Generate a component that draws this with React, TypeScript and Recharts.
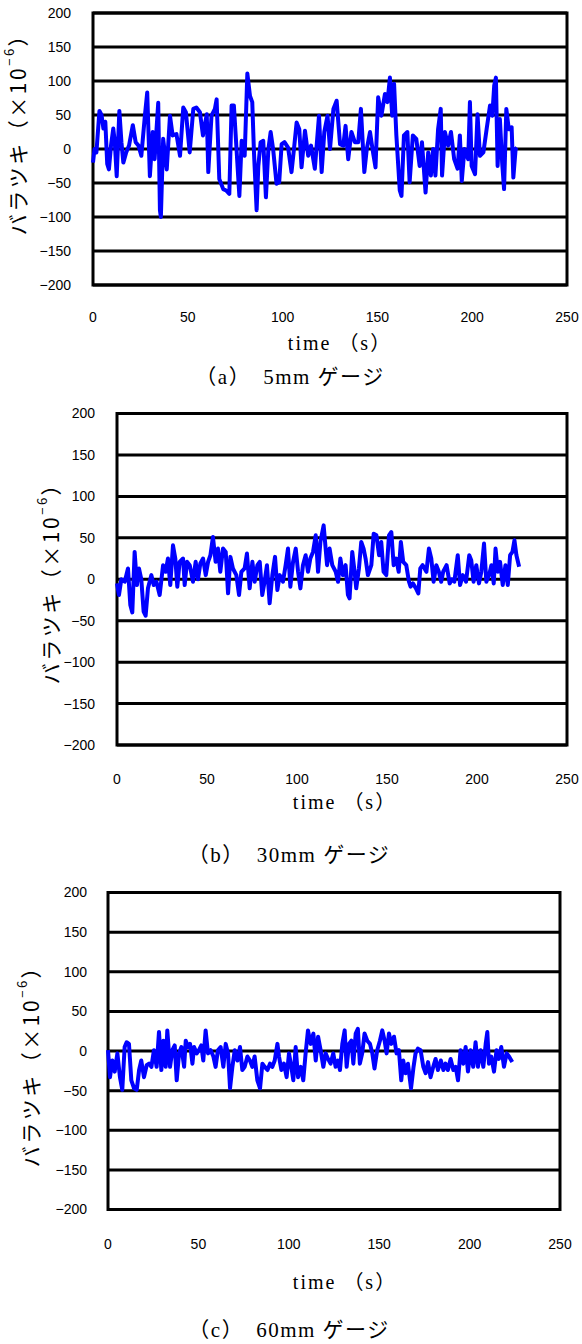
import React from 'react'
import { LineChart, Line, XAxis, YAxis, CartesianGrid, ReferenceArea } from 'recharts'

// time (s) and scatter (x10^-6) for each gauge length
const gauge5Time = [
  0, 0.8, 1.8, 3.4, 4.5, 5.5, 6.5, 7.5, 8.4, 9.5, 10.7, 11.5, 12.5, 13.9, 15, 16, 17.5, 19, 21, 22.5,
  24, 25.5, 27.4, 28.6, 30, 31.5, 32.5, 34.4, 35.3, 35.8, 37, 38.9, 40.6, 42, 44, 45.9, 47.6, 49, 51, 52.9,
  54.5, 56.4, 58, 60, 60.8, 62.5, 64.3, 65.2, 66.6, 68.7, 70.2, 71.9, 73.1, 74.3, 75.8, 77.2, 78.4, 80, 81.4, 82.8,
  84, 84.9, 86.3, 87.2, 88.4, 89.8, 91.2, 92.5, 93.7, 95, 96.8, 98.2, 99.5, 101, 102.9, 104.7, 106, 107.4, 108.8, 110,
  111.8, 113.5, 115, 117, 119.2, 120.6, 122, 123.7, 125, 126.8, 128.5, 130.3, 132, 133.2, 134.6, 136.3, 138.1, 139.9, 141.3, 143.1,
  144.4, 146.1, 147.8, 149, 150.4, 152.1, 154, 155.3, 156.6, 157.8, 158.8, 160, 161.8, 162.7, 164, 165.8, 167, 168.7, 170.5, 172.3,
  173.5, 175.4, 176.8, 178.2, 179.4, 180.6, 182, 183.4, 184.1, 185.6, 187.3, 188.8, 190.5, 192.3, 193.5, 194.5, 195.9, 197.9, 198.8, 199.7,
  201.5, 202.8, 204.1, 205.9, 207.6, 209.4, 210.6, 211.6, 212.5, 213.4, 214.6, 215.8, 216.8, 218, 219.3, 220.8, 221.7, 222.9, 223.6,
]
const gauge5Value = [
  -20, 0, -5, 56, 50, 30, 40, -22, -30, 5, 30, 10, -40, 56, 10, -20, -5, 5, 35, 10,
  5, -10, 50, 83, -40, 25, -15, 68, -90, -100, 15, -30, 49, 20, 22, -10, 61, 54, -5, 59,
  61, 54, 20, 51, -34, 49, 59, 73, -44, -59, -61, -66, 64, 64, -5, -69, 12, -10, 111, 78,
  69, -5, -90, -25, 10, 12, -71, 0, 25, 0, -51, -49, 7, 10, 2, -34, 0, 39, 29, -27,
  27, -10, 5, -29, 49, -34, 25, 49, 0, 59, 71, 7, 5, 34, -15, 25, 10, 10, 59, -34,
  0, 25, -7, -27, 76, 49, 81, 69, 105, 49, 96, 20, -61, -69, 20, 25, -49, 20, 15, -25,
  10, -64, -5, -39, 0, -39, 29, 59, -39, 25, 5, 25, -15, -29, 20, -47, 0, -15, 69, -25,
  -37, 51, -10, -5, 29, 64, 49, 93, 105, -25, 44, -20, -59, 59, 29, 32, -42, 0, 2,
]

const gauge30Time = [
  0, 1.1, 2.4, 4.3, 6.1, 7.4, 8.5, 9.8, 11.1, 12.2, 13.5, 14.8, 15.9, 17.2, 19.1, 20.4, 21.9, 23.7, 25.6, 27,
  28.3, 29.6, 31.1, 32.4, 33.5, 34.8, 36.7, 37.6, 38.9, 40.4, 42.2, 43.7, 45, 46.3, 47.8, 49.3, 50.6, 51.9, 53.3, 54.8,
  56.1, 57.4, 58.9, 60.4, 61.7, 63, 64.4, 66.3, 67.8, 69.1, 70.9, 72.2, 73.7, 75.2, 76.5, 78, 79.3, 80.7, 82, 83.3,
  84.8, 86.3, 87.8, 89.1, 90.4, 92.2, 93.7, 95, 96.3, 97.8, 99.3, 100.6, 101.9, 103.3, 104.8, 106.1, 107.4, 108.9, 110.4, 111.7,
  113, 114.8, 116.7, 118.1, 119.6, 121.5, 122.8, 124.1, 125.5, 127, 128.3, 129.2, 130.7, 132, 132.9, 134.4, 135.7, 137, 138.1, 139.4,
  141.3, 142.6, 144.1, 145.6, 146.8, 148.1, 149.6, 151.1, 152.4, 153.7, 155.1, 156.5, 157.7, 159, 160.7, 162.2, 163.1, 164.4, 166.1, 167.4,
  168.5, 169.8, 171.9, 173.3, 174.6, 175.9, 177.4, 178.8, 180.1, 181.2, 183.1, 184.8, 186.1, 187.4, 189.3, 190.6, 192.1, 193.9, 195.7, 196.8,
  198.1, 199.6, 201.1, 202.4, 203.9, 205.2, 206.7, 208, 209.3, 210.3, 211.6, 212.8, 214.3, 215.8, 217.1, 218.4, 219.7, 220.8, 221.9, 223.4,
]
const gauge30Value = [
  -5, -19, 0, -3, 13, -31, -40, 33, -7, 13, 0, -39, -44, -11, 5, -7, -3, -19, 17, 9,
  25, -7, 41, 25, -9, 21, 25, -7, 21, 17, -3, 21, 0, 19, 25, 5, 21, 29, 51, 21,
  37, 9, 37, 33, -17, 27, 13, 5, -19, 9, 13, 31, -11, 21, -3, 17, 21, -19, -3, 17,
  -29, 5, 27, -13, 5, -3, 17, 37, -9, 21, 37, 9, -11, 17, 29, 9, 25, 33, 53, 9,
  45, 65, 17, 37, 17, 9, -3, 25, 5, 17, -19, -23, 33, 9, -11, 13, 45, 37, 25, 5,
  17, 55, 53, 29, 45, 9, 5, 53, 57, 17, 25, 9, 45, 21, 17, -3, -9, -5, -11, -17,
  13, 17, 9, 37, 25, -3, 17, 9, -3, 9, 17, -5, 0, -3, 29, -7, 5, -3, 29, 23,
  -3, 17, -5, 9, 43, -3, 5, 17, -5, 37, 9, 21, -7, 17, -7, 29, 33, 47, 29, 15,
]

const gauge60Time = [
  0, 1.1, 2.4, 3.7, 5.2, 6.6, 7.9, 9.2, 10.3, 11.6, 12.9, 14.4, 15.9, 17.2, 18.4, 19.9, 21.4, 22.7, 24, 25.4,
  26.9, 28.2, 29.5, 30.6, 31.9, 32.8, 34.3, 35.6, 36.9, 38, 39.3, 40.6, 42.1, 43, 44.3, 45.4, 46.7, 47.6, 49.1, 50.3,
  51.6, 52.7, 54, 55.3, 56.8, 58.3, 59.5, 60.8, 62.3, 63.8, 65.1, 66.4, 67.5, 68.8, 70.1, 71.6, 73, 74.3, 75.6, 77.1,
  78.5, 79.8, 81.1, 82.6, 84.1, 85.4, 86.7, 88.2, 89.6, 90.9, 92.2, 93.7, 94.6, 95.9, 97.3, 98.8, 100.1, 101.4, 102.5, 103.8,
  105.1, 106.6, 108, 109.3, 110.6, 112.1, 113.6, 114.9, 116.2, 117.6, 119.1, 120.4, 121.7, 123.1, 124.6, 125.9, 127.2, 128.3, 129.6, 130.9,
  132, 133.3, 134.6, 135.7, 137, 138.2, 139.3, 140.6, 141.9, 143.4, 144.9, 146.2, 147.4, 148.9, 150.4, 151.7, 153, 154.1, 155.4, 156.7,
  158.2, 159.6, 160.9, 162.2, 163.3, 164.6, 165.9, 167.6, 169, 170.1, 171.4, 172.9, 174.4, 175.7, 177, 178.4, 179.9, 181.2, 182.5, 184.1,
  185.5, 186.7, 188, 189.5, 191, 192.3, 193.6, 195, 196.5, 197.8, 199.1, 200.5, 202, 203.3, 204.6, 206.1, 207.6, 208.9, 209.8, 210.7,
  212, 213.5, 214.9, 216.2, 217.5, 219, 220.5, 221.8, 223.6,
]
const gauge60Value = [
  1, -33, -12, -26, -3, -33, -49, 5, 11, 9, -37, -47, -49, -24, -12, -33, -18, -16, -20, 1,
  -20, 24, -24, 13, -20, 26, -20, 1, 7, -37, -3, 5, -20, 13, 5, 9, -16, 5, -3, 1,
  7, -12, 26, -3, 1, -7, -20, 1, 5, -20, 9, -3, -47, -20, 1, -12, 5, -24, -20, -7,
  -12, -20, -7, -37, -47, -16, -20, -24, -16, -20, -12, 9, -7, -24, -16, -33, -3, -20, -37, 5,
  -33, -20, -37, -3, 26, 9, 22, -12, 18, 1, -20, -3, -10, -16, -3, -20, -12, -24, 9, 26,
  -20, 9, 13, -16, 22, 28, -16, -3, 22, 13, 9, -3, -22, 1, 13, 26, 13, -3, 22, 9,
  18, -3, 1, -37, -12, -28, -16, -47, -20, -3, 3, 1, -20, -28, -14, -33, -20, -10, -24, -12,
  -24, -16, -24, -10, -24, -20, -37, 1, -16, 5, -26, 1, -20, 11, -20, 1, -20, 9, 24, -16,
  -7, -26, 1, -10, 5, -20, -3, -7, -14,
]

const timeTicks = [0, 50, 100, 150, 200, 250]
const scatterTicks = [-200, -150, -100, -50, 0, 50, 100, 150, 200]

const toRows = (time: number[], value: number[]) => time.map((t, i) => ({ time: t, value: value[i] }))

const TICK_FONT = '"Liberation Sans", Arial, sans-serif'
const SERIF_FONT = '"Liberation Serif", "Noto Sans CJK JP", serif'
const CJK_FONT = '"Noto Sans CJK JP", "Liberation Sans", sans-serif'

const minus = (v: number) => String(v).replace('-', '\u2212')

function YTitle({ x, y }: { x: number; y: number }) {
  return (
    <text
      x={x}
      y={y}
      transform={`rotate(-90 ${x} ${y})`}
      textAnchor="middle"
      dominantBaseline="central"
      fontFamily={CJK_FONT}
      fontSize={21}
      letterSpacing={2.5}
      fill="#000"
    >
      バラツキ（×10
      <tspan fontSize={13} dy={-9}>−6</tspan>
      <tspan fontSize={21} dy={9}>）</tspan>
    </text>
  )
}

function XTitle({ x, y }: { x: number; y: number }) {
  return (
    <text x={x} y={y} textAnchor="middle" dominantBaseline="central" fontFamily={SERIF_FONT} fontSize={20} letterSpacing={2} fill="#000">
      time （s）
    </text>
  )
}

interface PanelProps {
  rows: { time: number; value: number }[]
  top: number
  height: number
  plotTop: number
  plotLeft: number
  plotRight: number
  plotBottom: number
  yTickGap: number
  xTickGap: number
  yTitle: [number, number]
  xTitle: [number, number]
  caption: string
  captionAt: [number, number]
}

function Panel(p: PanelProps) {
  const width = 582
  return (
    <>
      <div style={{ position: 'absolute', left: 0, top: p.top }}>
        <LineChart
          width={width}
          height={p.height}
          data={p.rows}
          margin={{ top: p.plotTop - p.top, right: width - p.plotRight, bottom: 0, left: 0 }}
        >
          <CartesianGrid vertical={false} stroke="#000" strokeWidth={3} />
          <ReferenceArea
            x1={0}
            x2={250}
            y1={-200}
            y2={200}
            fill="none"
            fillOpacity={0}
            stroke="#000"
            strokeWidth={3}
            ifOverflow="visible"
          />
          <XAxis
            type="number"
            dataKey="time"
            domain={[0, 250]}
            ticks={timeTicks}
            interval={0}
            axisLine={false}
            tickLine={false}
            tickSize={0}
            tickMargin={p.xTickGap}
            height={p.top + p.height - p.plotBottom}
            tick={{ fontSize: 14, fontFamily: TICK_FONT, fill: '#000' }}
            label={{ content: () => <XTitle x={p.xTitle[0]} y={p.xTitle[1] - p.top} /> }}
          />
          <YAxis
            type="number"
            domain={[-200, 200]}
            ticks={scatterTicks}
            interval={0}
            axisLine={false}
            tickLine={false}
            tickSize={0}
            tickMargin={p.yTickGap}
            width={p.plotLeft}
            tickFormatter={minus}
            tick={{ fontSize: 14, fontFamily: TICK_FONT, fill: '#000' }}
            label={{ content: () => <YTitle x={p.yTitle[0]} y={p.yTitle[1] - p.top} /> }}
          />
          <Line
            type="linear"
            dataKey="value"
            stroke="#0000ff"
            strokeWidth={4}
            strokeLinejoin="round"
            dot={false}
            isAnimationActive={false}
          />
        </LineChart>
      </div>
      <div
        style={{
          position: 'absolute',
          left: p.captionAt[0],
          top: p.captionAt[1],
          transform: 'translate(-50%, -50%)',
          whiteSpace: 'nowrap',
          fontFamily: SERIF_FONT,
          fontSize: 21,
          lineHeight: '22px',
          letterSpacing: 1.5,
          color: '#000',
        }}
      >
        {p.caption}
      </div>
    </>
  )
}

export default function App() {
  return (
    <div style={{ position: 'absolute', left: 0, top: 0, width: 582, height: 1344, background: '#fff', overflow: 'hidden' }}>
      <Panel
        rows={toRows(gauge5Time, gauge5Value)}
        top={0}
        height={360}
        plotTop={13}
        plotLeft={93}
        plotRight={567}
        plotBottom={285}
        yTickGap={22}
        xTickGap={27}
        yTitle={[17, 129]}
        xTitle={[340, 343]}
        caption="（a）　5mm ゲージ"
        captionAt={[290, 377]}
      />
      <Panel
        rows={toRows(gauge30Time, gauge30Value)}
        top={400}
        height={420}
        plotTop={413.5}
        plotLeft={117}
        plotRight={567}
        plotBottom={745}
        yTickGap={22}
        xTickGap={29}
        yTitle={[50, 578]}
        xTitle={[345, 802]}
        caption="（b）　30mm ゲージ"
        captionAt={[289, 855]}
      />
      <Panel
        rows={toRows(gauge60Time, gauge60Value)}
        top={880}
        height={420}
        plotTop={892.5}
        plotLeft={108}
        plotRight={560}
        plotBottom={1209.5}
        yTickGap={21}
        xTickGap={29.5}
        yTitle={[30, 1061]}
        xTitle={[345, 1282]}
        caption="（c）　60mm ゲージ"
        captionAt={[289, 1330]}
      />
    </div>
  )
}
